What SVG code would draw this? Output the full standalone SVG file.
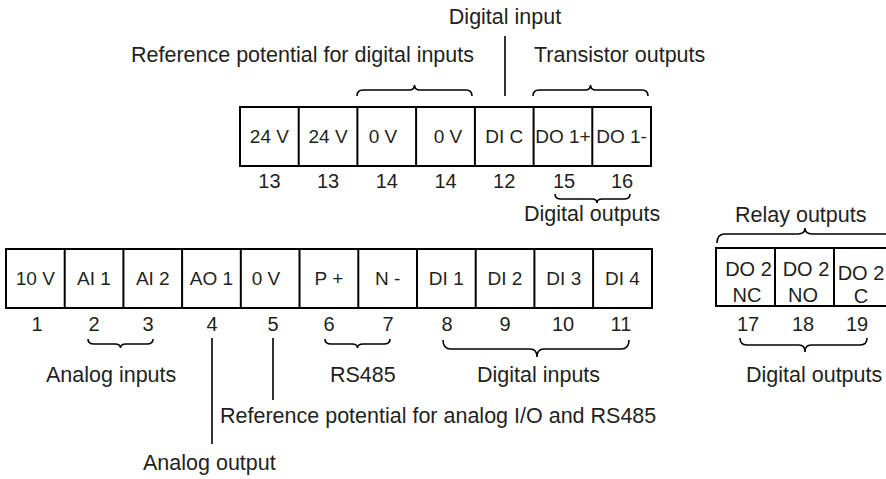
<svg xmlns="http://www.w3.org/2000/svg" width="886" height="479" viewBox="0 0 886 479">
<style>
  text { font-family: "Liberation Sans", Arial, sans-serif; fill: #231f20; }
  .cell { font-size: 19px; text-anchor: middle; }
  .cell2 { font-size: 20px; text-anchor: middle; }
  .num { font-size: 20px; text-anchor: middle; }
  .lbl { font-size: 21.5px; }
  .box { fill: #fff; stroke: #000; stroke-width: 2; }
  .div { stroke: #000; stroke-width: 2; }
  .br { fill: none; stroke: #000; stroke-width: 1.6; }
  .ln { fill: none; stroke: #000; stroke-width: 1.6; }
</style>
<rect width="886" height="479" fill="#fff"/>

<g id="top-strip">
  <rect class="box" x="240" y="107" width="411" height="59"/>
  <line class="div" x1="298.7" y1="107" x2="298.7" y2="166"/>
  <line class="div" x1="357.4" y1="107" x2="357.4" y2="166"/>
  <line class="div" x1="416.1" y1="107" x2="416.1" y2="166"/>
  <line class="div" x1="474.9" y1="107" x2="474.9" y2="166"/>
  <line class="div" x1="533.6" y1="107" x2="533.6" y2="166"/>
  <line class="div" x1="592.3" y1="107" x2="592.3" y2="166"/>
  <g id="t13a"><text class="cell" x="269.4" y="143">24 V</text><text class="num" x="269.4" y="188">13</text></g>
  <g id="t13b"><text class="cell" x="328.1" y="143">24 V</text><text class="num" x="328.1" y="188">13</text></g>
  <g id="t14a"><text class="cell" x="383" y="143">0 V</text><text class="num" x="386.8" y="188">14</text></g>
  <g id="t14b"><text class="cell" x="448" y="143">0 V</text><text class="num" x="445.5" y="188">14</text></g>
  <g id="t12"><text class="cell" x="504.2" y="143">DI C</text><text class="num" x="504.2" y="188">12</text></g>
  <g id="t15"><text class="cell" x="562.9" y="143">DO 1+</text><text class="num" x="564" y="188">15</text></g>
  <g id="t16"><text class="cell" x="621.6" y="143">DO 1-</text><text class="num" x="622" y="188">16</text></g>
</g>

<g id="bottom-strip">
  <rect class="box" x="6" y="249" width="646" height="59"/>
  <line class="div" x1="64.7" y1="249" x2="64.7" y2="308"/>
  <line class="div" x1="123.4" y1="249" x2="123.4" y2="308"/>
  <line class="div" x1="182.1" y1="249" x2="182.1" y2="308"/>
  <line class="div" x1="240.8" y1="249" x2="240.8" y2="308"/>
  <line class="div" x1="299.5" y1="249" x2="299.5" y2="308"/>
  <line class="div" x1="358.3" y1="249" x2="358.3" y2="308"/>
  <line class="div" x1="417" y1="249" x2="417" y2="308"/>
  <line class="div" x1="475.7" y1="249" x2="475.7" y2="308"/>
  <line class="div" x1="534.4" y1="249" x2="534.4" y2="308"/>
  <line class="div" x1="593.1" y1="249" x2="593.1" y2="308"/>
  <g id="b1"><text class="cell" x="35.3" y="285">10 V</text><text class="num" x="37" y="331">1</text></g>
  <g id="b2"><text class="cell" x="94" y="285">AI 1</text><text class="num" x="94" y="331">2</text></g>
  <g id="b3"><text class="cell" x="152.8" y="285">AI 2</text><text class="num" x="148" y="331">3</text></g>
  <g id="b4"><text class="cell" x="211.5" y="285">AO 1</text><text class="num" x="212" y="331">4</text></g>
  <g id="b5"><text class="cell" x="266" y="285">0 V</text><text class="num" x="273" y="331">5</text></g>
  <g id="b6"><text class="cell" x="328.9" y="285">P +</text><text class="num" x="329" y="331">6</text></g>
  <g id="b7"><text class="cell" x="387.6" y="285">N -</text><text class="num" x="388" y="331">7</text></g>
  <g id="b8"><text class="cell" x="446.3" y="285">DI 1</text><text class="num" x="447" y="331">8</text></g>
  <g id="b9"><text class="cell" x="505" y="285">DI 2</text><text class="num" x="505" y="331">9</text></g>
  <g id="b10"><text class="cell" x="563.8" y="285">DI 3</text><text class="num" x="563" y="331">10</text></g>
  <g id="b11"><text class="cell" x="622.5" y="285">DI 4</text><text class="num" x="621" y="331">11</text></g>
</g>

<g id="relay-strip">
  <rect class="box" x="716" y="248" width="177" height="58"/>
  <line class="div" x1="775" y1="248" x2="775" y2="306"/>
  <line class="div" x1="834" y1="248" x2="834" y2="306"/>
  <g id="r17"><text class="cell2" x="748.5" y="276">DO 2</text><text class="cell2" x="747" y="302">NC</text><text class="num" x="748" y="331">17</text></g>
  <g id="r18"><text class="cell2" x="806" y="276">DO 2</text><text class="cell2" x="803" y="302">NO</text><text class="num" x="803" y="331">18</text></g>
  <g id="r19"><text class="cell2" x="861" y="280">DO 2</text><text class="cell2" x="861" y="303">C</text><text class="num" x="857" y="331">19</text></g>
</g>

<g id="connectors">
  <path class="br" d="M357,96 Q357,90 363,90 L409,90 Q414.5,90 414.5,85 Q414.5,90 420,90 L466,90 Q472,90 472,96"/>
  <path class="br" d="M533,96 Q533,90 539,90 L585,90 Q590.5,90 590.5,85 Q590.5,90 596,90 L642,90 Q648,90 648,96"/>
  <path class="br" d="M555,194 Q555,199 561,199 L592,199 Q597,199 597,203 Q597,199 602,199 L624,199 Q630,199 630,194"/>
  <path class="br" d="M717,243 Q717,234 725,234 L798,234 Q805,234 805,228 Q805,234 812,234 L885,234 Q893,234 893,243"/>
  <path class="br" d="M88,339 Q88,344 94,344 L115,344 Q120.5,344 120.5,348 Q120.5,344 126,344 L147,344 Q153,344 153,339"/>
  <path class="br" d="M325,339 Q325,344 331,344 L352,344 Q357.5,344 357.5,348 Q357.5,344 363,344 L384,344 Q390,344 390,339"/>
  <path class="br" d="M443,340 Q443,349 451,349 L530,349 Q537,349 537,357 Q537,349 544,349 L621,349 Q629,349 629,340"/>
  <path class="br" d="M740,338 Q740,345 747,345 L799,345 Q805,345 805,352 Q805,345 811,345 L860,345 Q867,345 867,338"/>
  <line class="ln" x1="505" y1="36" x2="505" y2="96"/>
  <line class="ln" x1="212" y1="338" x2="212" y2="444"/>
  <line class="ln" x1="273" y1="338" x2="273" y2="400"/>
</g>

<g id="labels">
  <text class="lbl" x="505" y="24" text-anchor="middle">Digital input</text>
  <text class="lbl" x="474" y="62" text-anchor="end">Reference potential for digital inputs</text>
  <text class="lbl" x="534" y="62">Transistor outputs</text>
  <text class="lbl" x="524" y="221">Digital outputs</text>
  <text class="lbl" x="735" y="222">Relay outputs</text>
  <text class="lbl" x="46" y="382">Analog inputs</text>
  <text class="lbl" x="330" y="382">RS485</text>
  <text class="lbl" x="477" y="382">Digital inputs</text>
  <text class="lbl" x="746" y="382">Digital outputs</text>
  <text class="lbl" x="220" y="423">Reference potential for analog I/O and RS485</text>
  <text class="lbl" x="143" y="470">Analog output</text>
</g>
</svg>
